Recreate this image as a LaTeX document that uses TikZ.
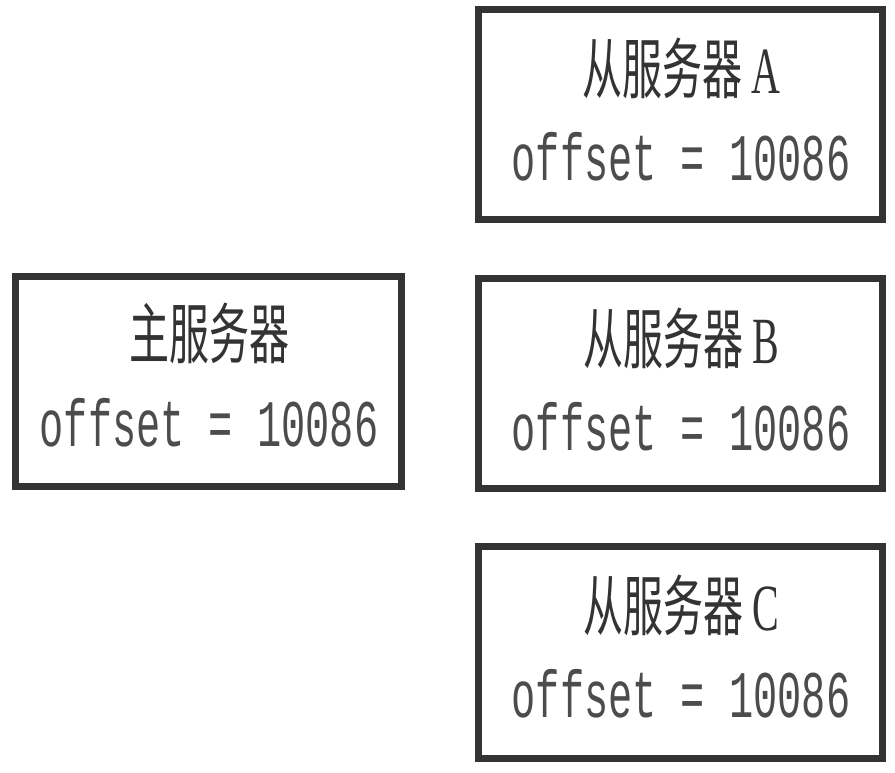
\documentclass[tikz,border=0pt]{standalone}
\usepackage{fontspec}
\setmainfont{Liberation Serif}
\setmonofont{Liberation Mono}
\newfontfamily\cjk{Noto Sans CJK SC}[Scale=1]
\begin{document}
\begin{tikzpicture}[x=1pt,y=-1pt,
  box/.style={draw=black!80, line width=7pt, minimum width=386pt, minimum height=210pt, inner sep=0pt},
  title/.style={font=\fontsize{40}{40}\selectfont, text=black!80, inner sep=0pt},
  val/.style={font=\fontsize{40.3}{40}\selectfont\ttfamily, text=black!70, inner sep=0pt}]
\useasboundingbox (0,0) rectangle (895,773);
\newcommand{\tall}[1]{\scalebox{1}[1.65]{#1}}
% boxes
\node[box] (m) at (208.5,381.5) {};
\node[box, minimum width=404pt, minimum height=210pt] (a) at (680.5,114.5) {};
\node[box, minimum width=404pt] (b) at (680.5,383) {};
\node[box, minimum width=404pt, minimum height=212pt] (c) at (680.5,652.5) {};
% texts
\node[title] (mt) at (209,333) {\tall{\cjk 主服务器}};
\node[val] (mv) at (209,423) {\tall{offset = 10086}};
\node[title] (at) at (681,68) {\tall{{\cjk 从服务器}\hspace{9pt}A}};
\node[val] (av) at (681,157) {\tall{offset = 10086}};
\node[title] (bt) at (681,338) {\tall{{\cjk 从服务器}\hspace{9pt}B}};
\node[val] (bv) at (681,427) {\tall{offset = 10086}};
\node[title] (ct) at (681,605) {\tall{{\cjk 从服务器}\hspace{9pt}C}};
\node[val] (cv) at (681,694) {\tall{offset = 10086}};
\end{tikzpicture}
\end{document}
